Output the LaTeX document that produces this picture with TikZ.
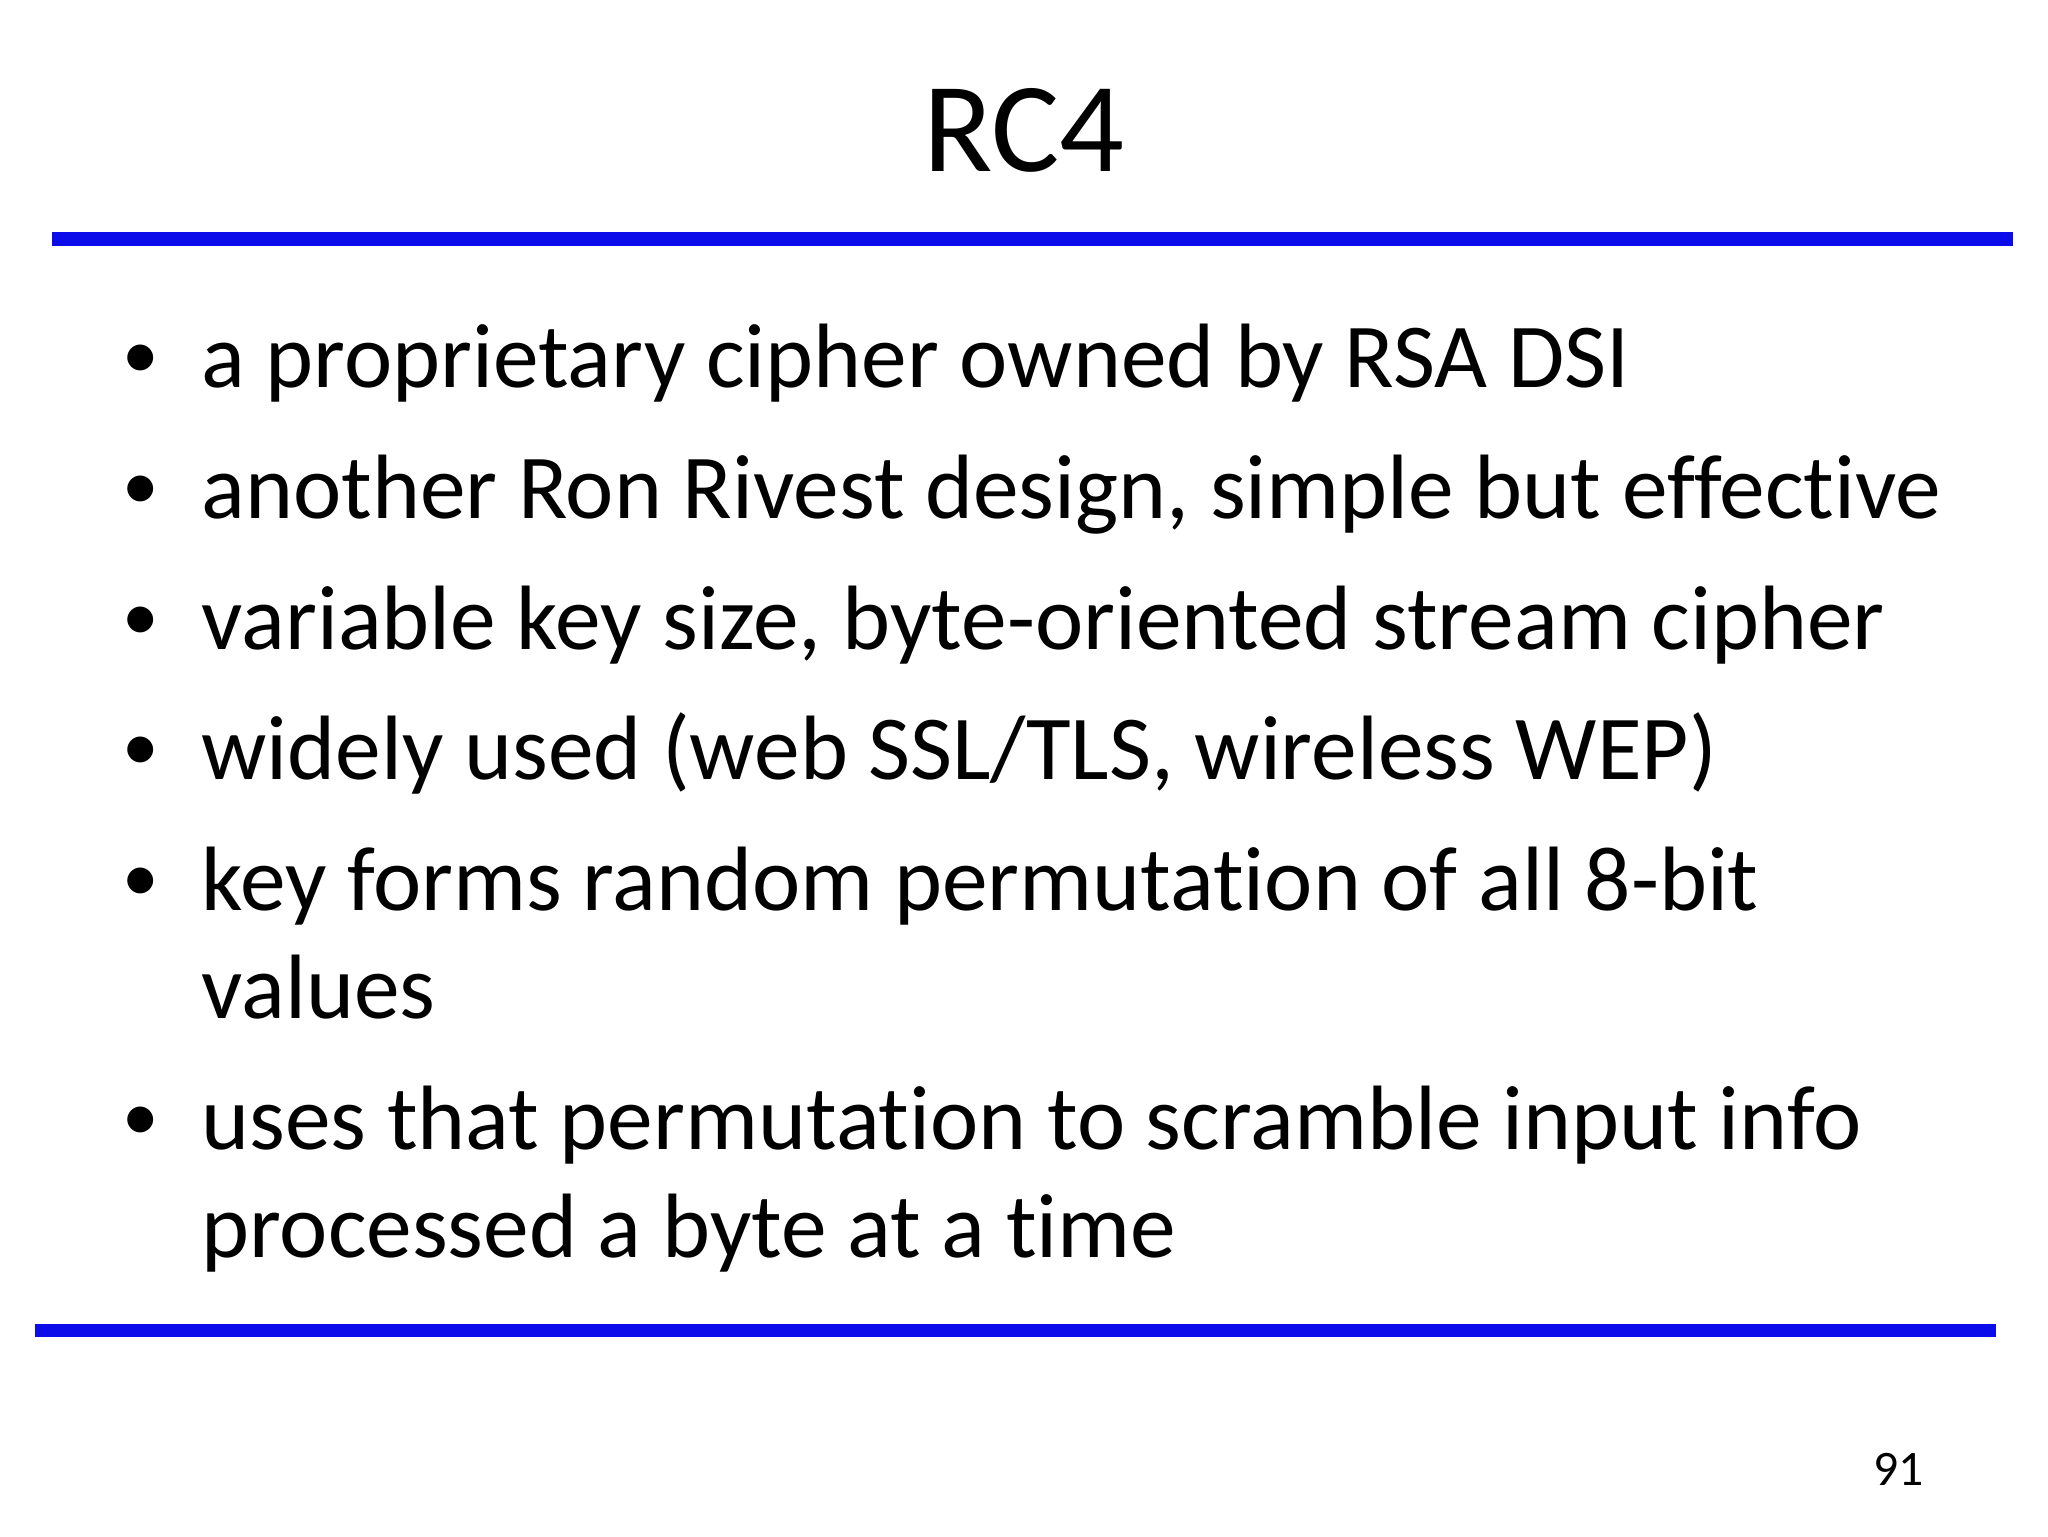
\documentclass[tikz,border=0pt]{standalone}
\usepackage{fontspec}
\setmainfont{Carlito}[Ligatures=NoCommon]
\definecolor{rule}{RGB}{12,12,235}
\begin{document}
\begin{tikzpicture}[x=1pt,y=-1pt,
  txt/.style={anchor=base west,inner sep=0pt,font=\fontsize{70}{80}\selectfont},
  bul/.style={anchor=base,inner sep=0pt,font=\fontsize{56}{60}\selectfont},
  hr/.style={draw=rule,line width=10pt}]
\useasboundingbox (0,0) rectangle (1568,1176);
\node[anchor=base,inner sep=0pt,font=\fontsize{98}{110}\selectfont] (title) at (784,131) {RC4};
\coordinate (t1) at (40,183); \coordinate (t2) at (1541,183);
\draw[hr] (t1) -- (t2);
\node[bul] (b1) at (108,290) {•}; \node[txt] (l1) at (154,297) {a proprietary cipher owned by RSA DSI};
\node[bul] (b2) at (108,390) {•}; \node[txt] (l2) at (154,397) {another Ron Rivest design, simple but effective};
\node[bul] (b3) at (108,490) {•}; \node[txt] (l3) at (154,497) {variable key size, byte-oriented stream cipher};
\node[bul] (b4) at (108,590) {•}; \node[txt] (l4) at (154,597) {widely used (web SSL/TLS, wireless WEP)};
\node[bul] (b5) at (108,690) {•}; \node[txt] (l5) at (154,697) {key forms random permutation of all 8-bit};
\node[txt] (l5b) at (154,780) {values};
\node[bul] (b6) at (108,873) {•}; \node[txt] (l6) at (154,880) {uses that permutation to scramble input info};
\node[txt] (l6b) at (154,963) {processed a byte at a time};
\coordinate (u1) at (27,1019); \coordinate (u2) at (1528,1019);
\draw[hr] (u1) -- (u2);
\node[anchor=base east,inner sep=0pt,font=\fontsize{38}{44}\selectfont] (pg) at (1473,1137) {91};
\end{tikzpicture}
\end{document}
